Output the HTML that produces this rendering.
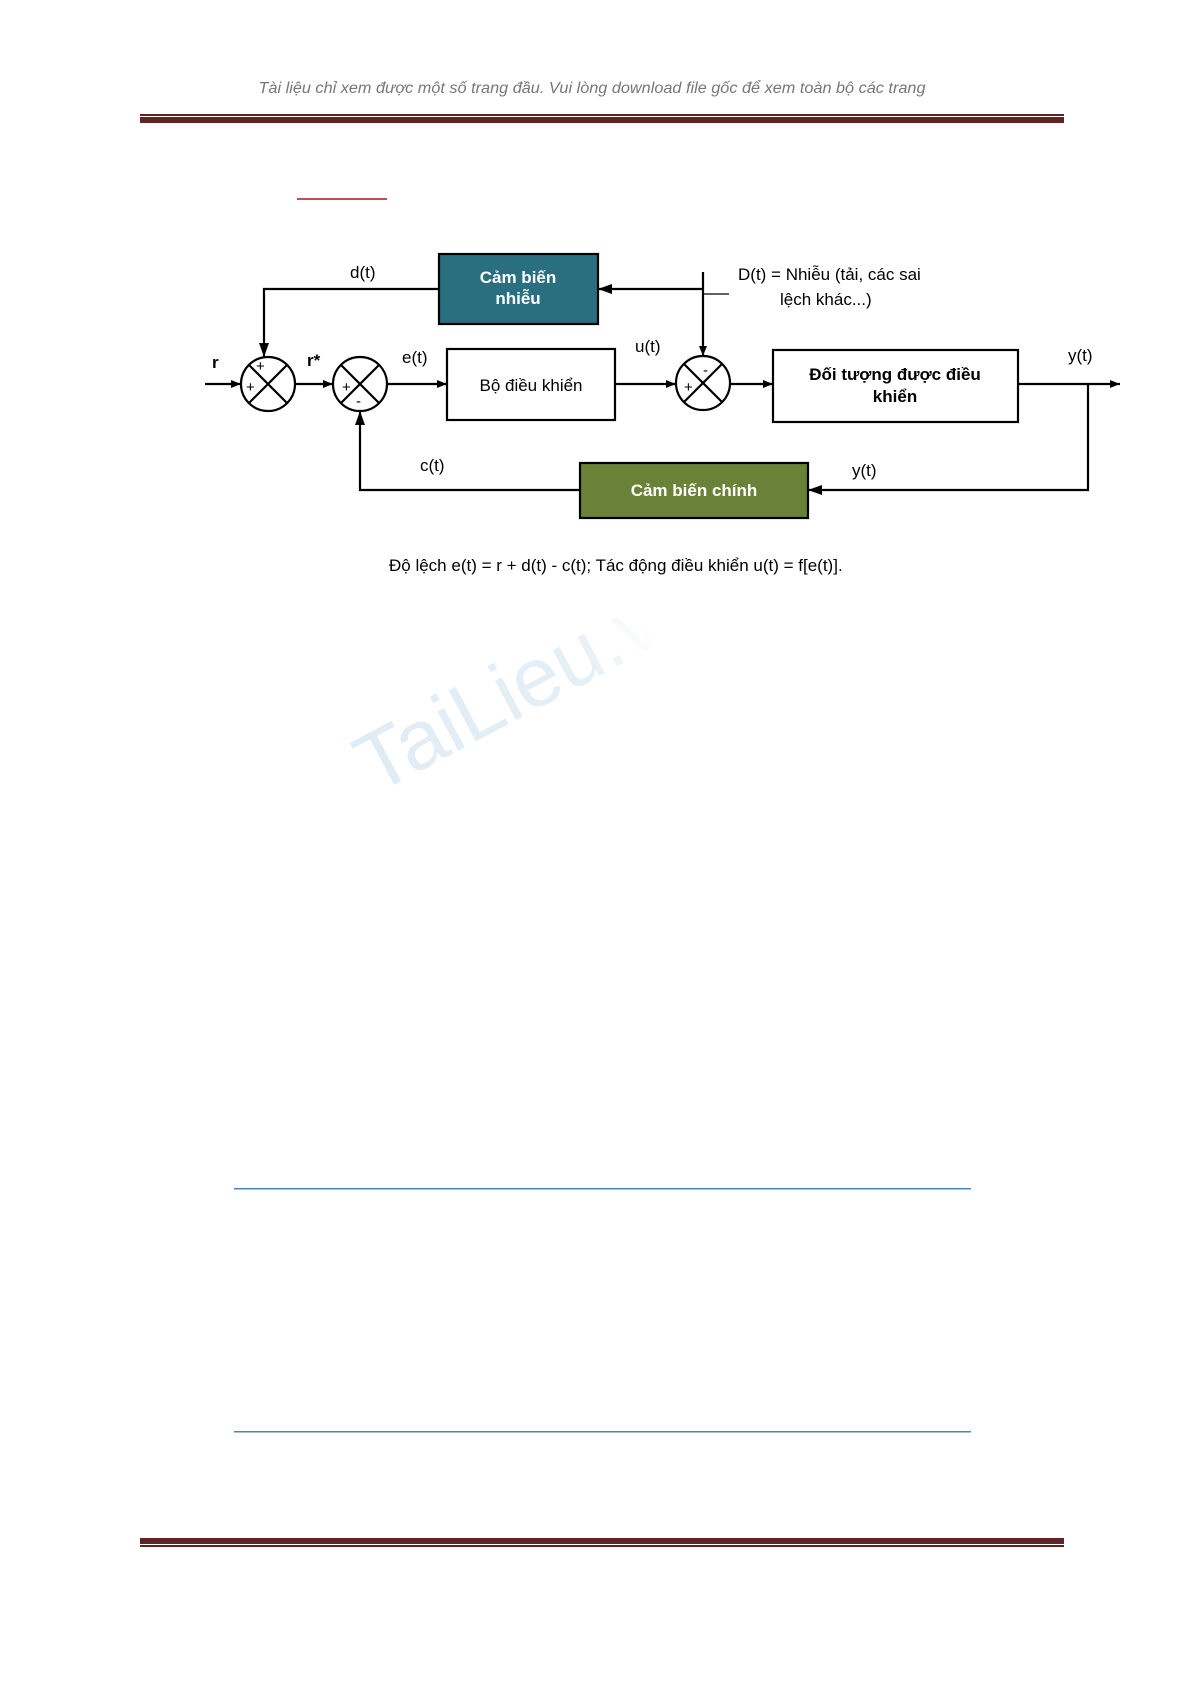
<!DOCTYPE html>
<html><head><meta charset="utf-8"><style>
html,body{margin:0;padding:0;background:#fff;}
svg{display:block;}
text{font-family:"Liberation Sans",Arial,sans-serif;}
</style></head><body>
<svg width="1192" height="1684" viewBox="0 0 1192 1684" xmlns="http://www.w3.org/2000/svg">
<defs>
<marker id="a" markerWidth="10" markerHeight="8" refX="10" refY="4" orient="auto" markerUnits="userSpaceOnUse">
<path d="M0,0 L10,4 L0,8 z" fill="#000"/></marker>
<marker id="b" markerWidth="14" markerHeight="10" refX="14" refY="5" orient="auto" markerUnits="userSpaceOnUse">
<path d="M0,0 L14,5 L0,10 z" fill="#000"/></marker>
<linearGradient id="wm" x1="0" y1="0" x2="1" y2="0">
<stop offset="0" stop-color="#e0ecf4"/><stop offset="0.65" stop-color="#e5eff6"/><stop offset="0.85" stop-color="#fff"/>
</linearGradient>
</defs>
<text x="592" y="93" font-size="15.5" font-style="italic" fill="#777" text-anchor="middle" textLength="667" lengthAdjust="spacingAndGlyphs">Tài liệu chỉ xem được một số trang đầu. Vui lòng download file gốc để xem toàn bộ các trang</text>
<rect x="140" y="114" width="924" height="2" fill="#622423"/>
<rect x="140" y="117" width="924" height="6" fill="#622423"/>
<rect x="297" y="198" width="90" height="2" fill="#c0504d"/>

<text x="0" y="0" font-size="84" fill="url(#wm)" transform="translate(375,795) rotate(-28)">TaiLieu.vn</text>

<g stroke="#000" stroke-width="2.2" fill="none">
<rect x="439" y="254" width="159" height="70" fill="#2a6f80"/>
<rect x="447" y="349" width="168" height="71" fill="#fff"/>
<rect x="773" y="350" width="245" height="72" fill="#fff"/>
<rect x="580" y="463" width="228" height="55" fill="#6a8238"/>
<circle cx="268" cy="384" r="27" fill="#fff"/>
<line x1="249" y1="365" x2="287" y2="403"/><line x1="287" y1="365" x2="249" y2="403"/>
<circle cx="360" cy="384" r="27" fill="#fff"/>
<line x1="341" y1="365" x2="379" y2="403"/><line x1="379" y1="365" x2="341" y2="403"/>
<circle cx="703" cy="383" r="27" fill="#fff"/>
<line x1="684" y1="364" x2="722" y2="402"/><line x1="722" y1="364" x2="684" y2="402"/>
<line x1="205" y1="384" x2="241" y2="384" marker-end="url(#a)"/>
<line x1="295" y1="384" x2="333" y2="384" marker-end="url(#a)"/>
<line x1="387" y1="384" x2="447" y2="384" marker-end="url(#a)"/>
<line x1="615" y1="384" x2="676" y2="384" marker-end="url(#a)"/>
<line x1="730" y1="384" x2="773" y2="384" marker-end="url(#a)"/>
<line x1="1018" y1="384" x2="1120" y2="384" marker-end="url(#a)"/>
<polyline points="439,289 264,289 264,357" marker-end="url(#b)"/>
<polyline points="703,289 598,289" marker-end="url(#b)"/>
<line x1="703" y1="272" x2="703" y2="356" marker-end="url(#a)"/>
<line x1="703" y1="294" x2="729" y2="294" stroke-width="1.2"/>
<polyline points="1088,384 1088,490 808,490" marker-end="url(#b)"/>
<polyline points="580,490 360,490 360,411" marker-end="url(#b)"/>
</g>
<g font-size="13" fill="#000">
<text x="256" y="371" font-size="15">+</text><text x="246" y="392" font-size="15">+</text>
<text x="342" y="392" font-size="15">+</text><text x="356" y="406" font-size="15">-</text>
<text x="703" y="375" font-size="15">-</text><text x="684" y="392" font-size="15">+</text>
</g>
<g font-size="17" fill="#000">
<text x="212" y="368" font-weight="bold">r</text>
<text x="307" y="366" font-weight="bold">r*</text>
<text x="402" y="363">e(t)</text>
<text x="350" y="278">d(t)</text>
<text x="635" y="352">u(t)</text>
<text x="1068" y="361">y(t)</text>
<text x="852" y="476">y(t)</text>
<text x="420" y="471">c(t)</text>
<text x="738" y="280">D(t) = Nhiễu (tải, các sai</text>
<text x="780" y="305">lệch khác...)</text>
<text x="531" y="391" text-anchor="middle">Bộ điều khiển</text>
<text x="895" y="380" text-anchor="middle" font-weight="bold">Đối tượng được điều</text>
<text x="895" y="402" text-anchor="middle" font-weight="bold">khiển</text>
<text x="518" y="283" text-anchor="middle" font-weight="bold" fill="#fff">Cảm biến</text>
<text x="518" y="304" text-anchor="middle" font-weight="bold" fill="#fff">nhiễu</text>
<text x="694" y="496" text-anchor="middle" font-weight="bold" fill="#fff">Cảm biến chính</text>
<text x="389" y="571">Độ lệch e(t) = r + d(t) - c(t); Tác động điều khiển u(t) = f[e(t)].</text>
</g>
<rect x="234" y="1188" width="737" height="1.5" fill="#4f81bd"/>
<rect x="234" y="1431" width="737" height="1.5" fill="#4f81bd"/>
<rect x="140" y="1538" width="924" height="6" fill="#622423"/>
<rect x="140" y="1545" width="924" height="2" fill="#622423"/>
</svg>
</body></html>
